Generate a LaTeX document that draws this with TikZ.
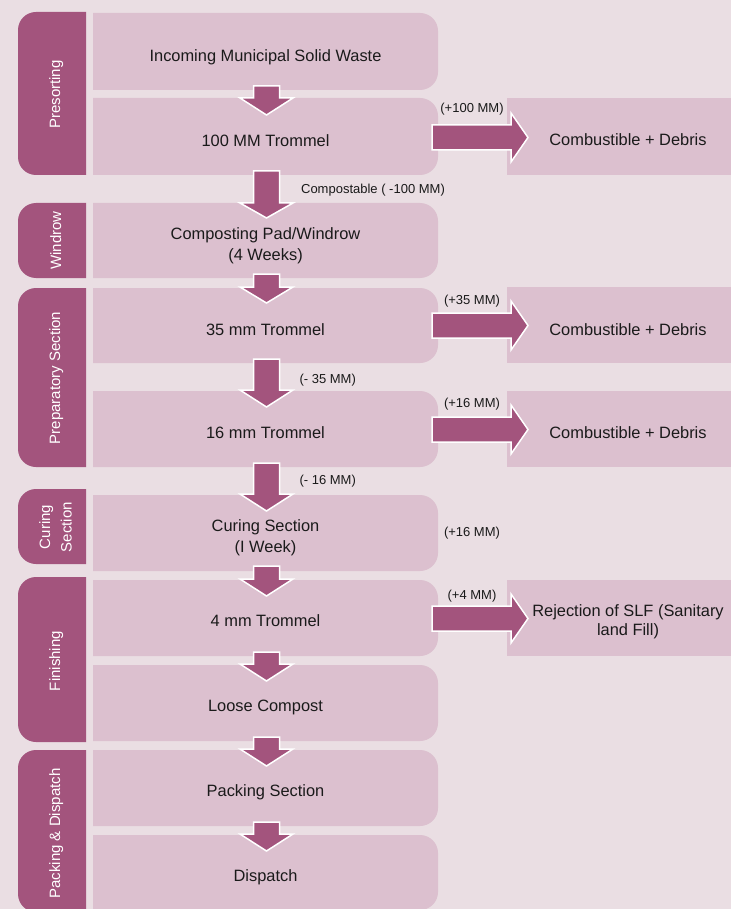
\documentclass[tikz,border=0pt]{standalone}
\usepackage{fontspec}
\setmainfont{Liberation Sans}
\definecolor{bg}{RGB}{234,222,227}
\definecolor{boxc}{RGB}{220,192,207}
\definecolor{dark}{RGB}{163,84,125}
\definecolor{txt}{RGB}{26,26,26}
% main box: square left corners, rounded right corners
\newcommand\mainbox[2]{\fill[boxc] (200,#1) [rounded corners=18pt] -- (438,#1) -- (438,#2) -- (200,#2) [sharp corners] -- (93,#2) -- (93,#1) -- cycle;}
% section bar: rounded left corners, square right corners
\newcommand\sectbar[2]{\fill[dark] (60,#1) [rounded corners=18pt] -- (18,#1) -- (18,#2) -- (60,#2) [sharp corners] -- (86,#2) -- (86,#1) -- cycle;}
% side box
\newcommand\sidebox[2]{\fill[boxc] (507,#1) rectangle (731,#2);}
% down block arrow: shaft top, head base, tip
\newcommand\dnarr[3]{\draw[arrowst] (253.5,#1) -- (279.5,#1) -- (279.5,#2) -- (293,#2) -- (266.5,#3) -- (240,#2) -- (253.5,#2) -- cycle;}
% right block arrow: centre y
\newcommand\rtarr[1]{\draw[arrowst] (432,#1-12.5) -- (511,#1-12.5) -- (511,#1-24.5) -- (528,#1) -- (511,#1+24.5) -- (511,#1+12.5) -- (432,#1+12.5) -- cycle;}
\begin{document}
\begin{tikzpicture}[x=1pt,y=-1pt,
  arrowst/.style={fill=dark, draw=white, line width=1.5pt, line join=miter},
  maintext/.style={font=\fontsize{16.4}{21.5}\selectfont, text=txt, align=center, inner sep=0pt},
  smalllab/.style={font=\fontsize{13}{15}\selectfont, text=txt, anchor=base, inner sep=0pt},
  secttext/.style={font=\fontsize{15}{21.5}\selectfont, text=white, rotate=90, align=center, inner sep=0pt}]
\useasboundingbox (0,0) rectangle (731,909);
\fill[bg] (0,0) rectangle (731,909);

% main boxes
\mainbox{13}{90}
\mainbox{98}{175}
\mainbox{203}{278}
\mainbox{288}{363}
\mainbox{391}{467}
\mainbox{495}{571}
\mainbox{580}{656}
\mainbox{665}{741}
\mainbox{750}{826}
\mainbox{835}{910}

% section bars
\sectbar{12}{175}
\sectbar{203}{278}
\sectbar{288}{467}
\sectbar{489}{564}
\sectbar{577}{742}
\sectbar{750}{912}

% side boxes
\sidebox{98}{175}
\sidebox{287}{363}
\sidebox{391}{467}
\sidebox{580}{656}

% down arrows
\dnarr{86}{98}{115}
\dnarr{171}{203}{218}
\dnarr{274}{287}{303}
\dnarr{359}{390}{407}
\dnarr{463}{494}{511}
\dnarr{566}{579}{596}
\dnarr{652}{664}{681}
\dnarr{737}{749}{766}
\dnarr{822}{834}{851}

% right arrows
\rtarr{137.5}
\rtarr{325.5}
\rtarr{429.5}
\rtarr{618.5}

% main box texts
\node[maintext, anchor=base] (b1) at (265.5,61.7) {Incoming Municipal Solid Waste};
\node[maintext, anchor=base] (b2) at (265.5,147) {100 MM Trommel};
\node[maintext] (b3) at (265.5,246) {Composting Pad/Windrow\\(4 Weeks)};
\node[maintext, anchor=base] (b4) at (265.5,335) {35 mm Trommel};
\node[maintext, anchor=base] (b5) at (265.5,438) {16 mm Trommel};
\node[maintext] (b6) at (265.5,538) {Curing Section\\(I Week)};
\node[maintext, anchor=base] (b7) at (265.5,626.7) {4 mm Trommel};
\node[maintext, anchor=base] (b8) at (265.5,711.7) {Loose Compost};
\node[maintext, anchor=base] (b9) at (265.5,796.7) {Packing Section};
\node[maintext, anchor=base] (b10) at (265.5,881.7) {Dispatch};

% side box texts
\node[maintext, anchor=base] (r1) at (628,145.7) {Combustible + Debris};
\node[maintext, anchor=base] (r2) at (628,335) {Combustible + Debris};
\node[maintext, anchor=base] (r3) at (628,438) {Combustible + Debris};
\node[maintext, font=\fontsize{16.4}{18.4}\selectfont] (r4) at (628,621.7) {Rejection of SLF (Sanitary\\land Fill)};

% section labels
\node[secttext, anchor=base] (s1) at (60,94.5) {Presorting};
\node[secttext, anchor=base] (s2) at (61,240.5) {Windrow};
\node[secttext, anchor=base] (s3) at (60,378) {Preparatory Section};
\node[secttext] (s4) at (55.5,527) {Curing\\Section};
\node[secttext, anchor=base] (s5) at (60,661) {Finishing};
\node[secttext, anchor=base] (s6) at (60,833.5) {Packing \& Dispatch};

% small labels
\node[smalllab] (l1) at (472,112.5) {(+100 MM)};
\node[smalllab] (l2) at (373,194) {Compostable ( -100 MM)};
\node[smalllab] (l3) at (472,304) {(+35 MM)};
\node[smalllab] (l4) at (327.7,383.5) {(- 35 MM)};
\node[smalllab] (l5) at (472,407.5) {(+16 MM)};
\node[smalllab] (l6) at (327.7,484.5) {(- 16 MM)};
\node[smalllab] (l7) at (472,536.5) {(+16 MM)};
\node[smalllab] (l8) at (472,599.5) {(+4 MM)};
\end{tikzpicture}
\end{document}
